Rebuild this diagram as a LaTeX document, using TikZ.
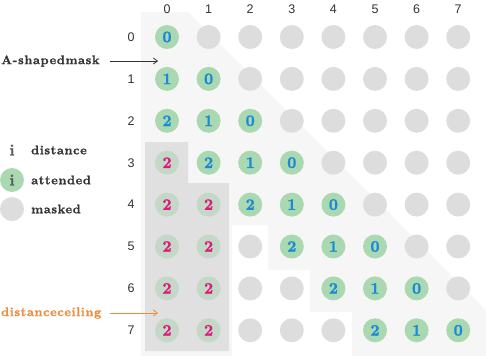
\documentclass[tikz,border=0pt]{standalone}
\usepackage{fontspec}
\newfontfamily\axfont{Liberation Sans}
\newfontfamily\lblfont{lmroman10-bold}[Extension=.otf,LetterSpace=5,FakeBold=1.2]
\newfontfamily\digfont{lmroman10-bold}[Extension=.otf,FakeBold=1.4]
\usetikzlibrary{arrows.meta,patterns}
\definecolor{att}{HTML}{A9D8B1}
\definecolor{attdark}{HTML}{C3D8C6}
\definecolor{msk}{HTML}{DCDDDC}
\definecolor{lightbg}{HTML}{F6F6F6}
\definecolor{ceilbg}{HTML}{DFE0DF}
\definecolor{dblue}{HTML}{1B8AD5}
\definecolor{dmag}{HTML}{DE1A7C}
\definecolor{txt}{HTML}{333333}
\definecolor{orng}{HTML}{F08A3E}
\begin{document}
\begin{tikzpicture}[x=1pt,y=-1pt,
  cell/.style={circle,minimum size=24pt,inner sep=0pt,
    font=\digfont\fontsize{16}{16}\selectfont},
  masked/.style={cell,fill=msk},
  attended/.style={cell,fill=att,text=dblue},
  ceiled/.style={cell,fill=attdark,text=dmag},
  axlbl/.style={font=\axfont\fontsize{12.5}{12.5}\selectfont,text=txt,inner sep=0pt},
  lbl/.style={font=\lblfont\fontsize{12.5}{12.5}\selectfont,
    text=txt,inner sep=0pt,anchor=west},
  arr/.style={-{Straight Barb[length=4pt,width=6pt]},line width=0.8pt}]
\useasboundingbox (0,0) rectangle (486,356);
% background regions
\fill[lightbg] (141,12) -- (188,12) -- (486,310) -- (486,356) -- (352,356) -- (352,312)
  -- (310,312) -- (310,270) -- (268,270) -- (268,225) -- (232,225) -- (232,356)
  -- (141,356) -- cycle;
\fill[ceilbg] (145,142) -- (188,142) -- (188,183) -- (229,183) -- (229,351)
  -- (145,351) -- cycle;
% axis labels
\foreach \c in {0,...,7}{
  \pgfmathsetmacro\xx{167+41.6*\c}
  \node[axlbl] (col\c) at (\xx,9) {\c};
  \pgfmathsetmacro\yy{37+41.9*\c}
  \node[axlbl] (row\c) at (131,\yy) {\c};
}
% cells
\foreach \r in {0,...,7}{
  \foreach \c in {0,...,7}{
    \pgfmathsetmacro\xx{167+41.6*\c}
    \pgfmathsetmacro\yy{37+41.9*\r}
    \pgfmathtruncatemacro\d{\r-\c}
    \ifnum\d<0
      \node[masked] (n\r\c) at (\xx,\yy) {};
    \else\ifnum\d<3
      \node[attended] (n\r\c) at (\xx,\yy) {\d};
    \else\ifnum\c<2
      \node[ceiled] (n\r\c) at (\xx,\yy) {2};
    \else
      \node[masked] (n\r\c) at (\xx,\yy) {};
    \fi\fi\fi
  }
}
% legend
\node[cell,text=txt!80] (li) at (12,150) {i};
\node[lbl] (ldist) at (31,150) {distance};
\node[cell,fill=att,text=txt!80] (lat) at (12,180) {i};
\node[lbl] (latt) at (31,180) {attended};
\node[cell,fill=msk] (lm) at (12,209) {};
\fill[pattern=dots,pattern color=black!10] (lm.center) circle (12pt);
\node[lbl] (lmsk) at (31,209) {masked};
% annotations
\node[lbl] (lA) at (1,61) {A-shapedmask};
\coordinate (aA) at (158,61);
\coordinate (sA) at (110,61);
\draw[arr,txt] (sA) -- (aA);
\node[lbl,text=orng] (lC) at (1,313) {distanceceiling};
\coordinate (aC) at (158,313);
\coordinate (sC) at (110,313);
\draw[arr,orng] (sC) -- (aC);
\end{tikzpicture}
\end{document}
